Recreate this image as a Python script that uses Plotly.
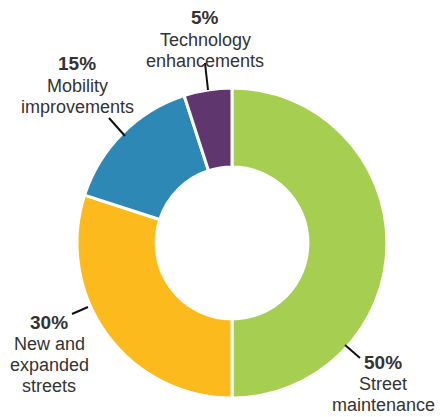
import plotly.graph_objects as go

categories = ["Street maintenance", "New and expanded streets", "Mobility improvements", "Technology enhancements"]
label_lines = [["Street", "maintenance"], ["New and", "expanded", "streets"], ["Mobility", "improvements"], ["Technology", "enhancements"]]
values = [50, 30, 15, 5]
colors = ["#A6CE50", "#FDBA1C", "#2E88B5", "#5F366E"]

W, H = 440, 417
cx, cy, R = 232, 243, 155

fig = go.Figure(go.Pie(
    labels=categories, values=values, sort=False, direction="clockwise", rotation=0,
    hole=0.49, marker=dict(colors=colors, line=dict(color="white", width=3)),
    textinfo="none", hoverinfo="label+percent", showlegend=False,
    domain=dict(x=[(cx - R) / W, (cx + R) / W], y=[(H - cy - R) / H, (H - cy + R) / H]),
))

# label positions (pixel, center of first line) and leader lines (pixel)
label_pos = [(383, 362), (49, 322), (77, 64), (205, 18)]
leaders = [((345, 345), (360, 358)), ((88, 307), (72, 314)), ((125, 136), (109, 118)), ((208, 90), (205, 63))]
line_gap = 21
FONT = "Liberation Sans, Arial, sans-serif"

def px(x, y):
    return x / W, 1 - y / H

for i, v in enumerate(values):
    lx, ly = label_pos[i]
    lines = ["<b>%d%%</b>" % v] + label_lines[i]
    for j, t in enumerate(lines):
        x, y = px(lx, ly + j * line_gap + (1 if j > 0 else 0))
        fig.add_annotation(x=x, y=y, xref="paper", yref="paper", text=t, showarrow=False,
                           font=dict(family=FONT, size=19 if j == 0 else 18, color="#333333"),
                           align="center", xanchor="center", yanchor="middle")
    (x0, y0), (x1, y1) = leaders[i]
    a, b = px(x0, y0)
    c, d = px(x1, y1)
    fig.add_shape(type="line", xref="paper", yref="paper", x0=a, y0=b, x1=c, y1=d,
                  line=dict(color="#111111", width=2))

fig.update_layout(width=W, height=H, margin=dict(l=0, r=0, t=0, b=0),
                  paper_bgcolor="white", plot_bgcolor="white")
fig.write_html("out.html")
